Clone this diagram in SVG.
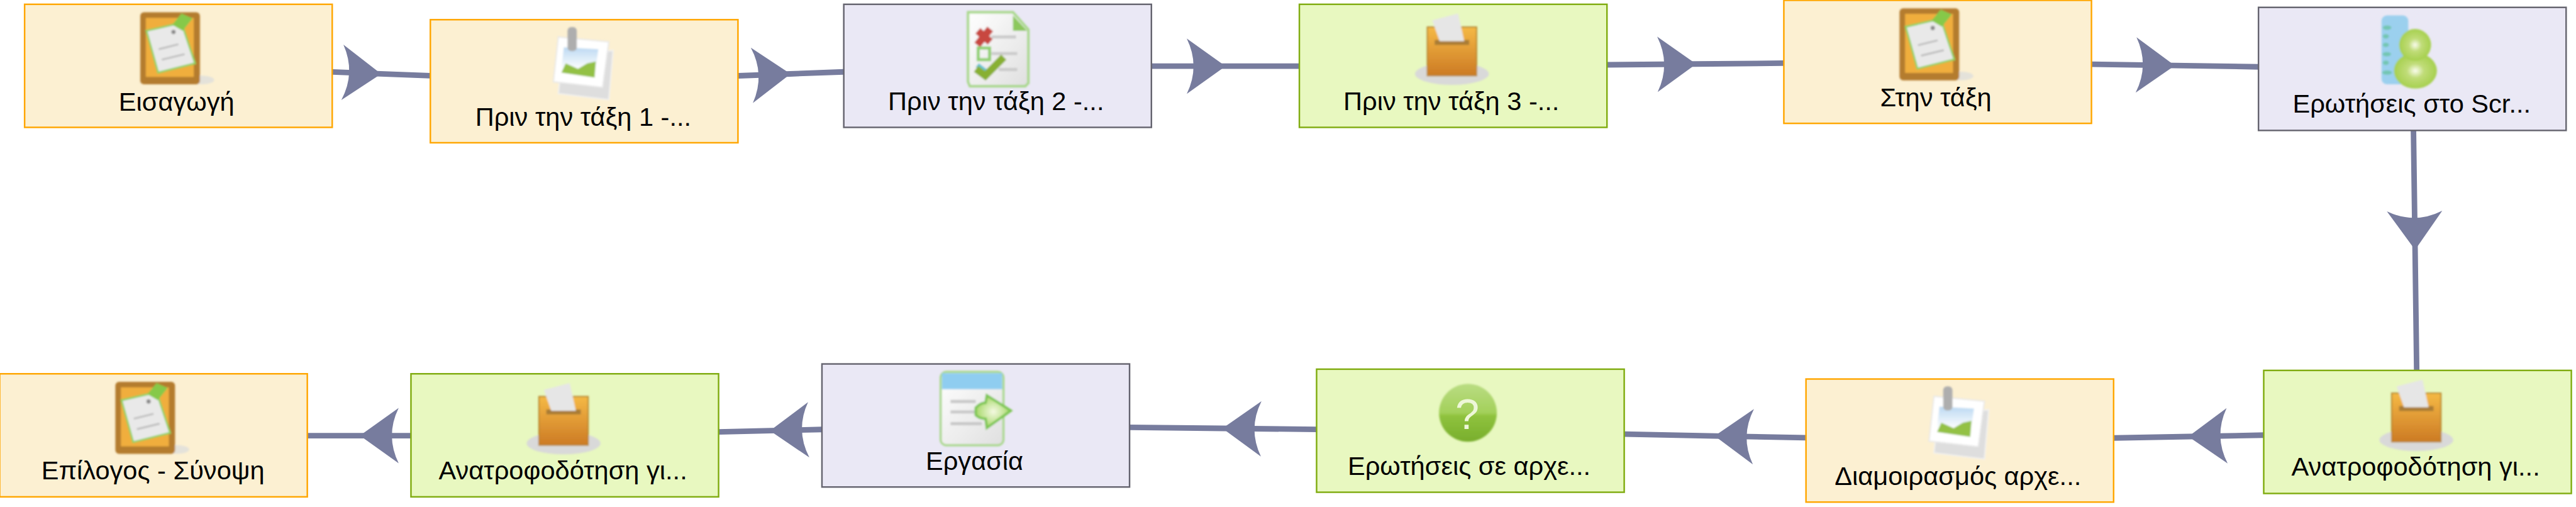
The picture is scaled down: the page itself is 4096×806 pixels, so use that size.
<svg xmlns="http://www.w3.org/2000/svg" xmlns:xlink="http://www.w3.org/1999/xlink" width="4096" height="806" viewBox="0 0 4096 806">
<style>
.box{stroke-width:2.5}
.orange{fill:#fcf0d2;stroke:#ffa600}
.purple{fill:#eae8f5;stroke:#65646f}
.green{fill:#e8f8c0;stroke:#80ac10}
.lbl{font-family:"Liberation Sans",Arial,sans-serif;font-size:42.5px;fill:#000;text-anchor:middle}
.conn{fill:none;stroke:#777c9e;stroke-width:9;marker-mid:url(#head)}
.qm{font-family:"Liberation Sans",Arial,sans-serif;font-size:70px;fill:#eef7d8;text-anchor:middle}
</style>
<defs>
<marker id="head" viewBox="-70 -50 75 100" refX="0" refY="0" markerWidth="75" markerHeight="100" markerUnits="userSpaceOnUse" orient="auto"><path d="M1,0L-62,-45Q-40,0,-62,45Z" fill="#777c9e"/></marker>
<filter id="soft" x="-15%" y="-15%" width="130%" height="130%"><feGaussianBlur stdDeviation="1.6"/></filter>
<linearGradient id="boxg" x1="0" y1="0" x2="0" y2="1"><stop offset="0" stop-color="#f5b945"/><stop offset="1" stop-color="#cc7a24"/></linearGradient>
<linearGradient id="skyg" x1="0" y1="0" x2="0" y2="1"><stop offset="0" stop-color="#bcd9f2"/><stop offset=".75" stop-color="#fff"/></linearGradient>
<linearGradient id="paperg" x1="0" y1="0" x2="1" y2="1"><stop offset="0" stop-color="#fff"/><stop offset="1" stop-color="#dfdfdf"/></linearGradient>
<linearGradient id="qg" x1="0" y1="0" x2="0" y2="1"><stop offset="0" stop-color="#b9dc82"/><stop offset=".5" stop-color="#a3d05a"/><stop offset=".55" stop-color="#8fc23e"/><stop offset="1" stop-color="#78ae2c"/></linearGradient>
<radialGradient id="persong"><stop offset="0" stop-color="#fbfdf0"/><stop offset=".4" stop-color="#c0dc78"/><stop offset="1" stop-color="#a6d04e"/></radialGradient>
<radialGradient id="arrowg"><stop offset="0" stop-color="#f4f9e2"/><stop offset="1" stop-color="#a6d868"/></radialGradient>
<g id="i-board" filter="url(#soft)">
<ellipse cx="98" cy="110" rx="20" ry="7" fill="#e4e2da"/>
<rect x="-2" y="0" width="97" height="117" rx="6" fill="#b47c2e"/>
<rect x="7" y="9" width="78" height="96" fill="#f0ae3c"/>
<polygon points="8,30 65,17 87,83 27,98" fill="#e9e9e9" stroke="#8ed25e" stroke-width="3"/>
<path d="M28,60L60,52M33,77L70,68" stroke="#bdbdbd" stroke-width="3"/>
<polygon points="50,20 65,2 83,10 67,30" fill="#86c94a"/>
<circle cx="52" cy="32" r="3.5" fill="#888"/>
</g>
<g id="i-stack" filter="url(#soft)">
<polygon points="25,45 107,37 100,117 18,107" fill="#dedede" stroke="#f2f2f2" stroke-width="2"/>
<polygon points="18,15 100,23 90,97 10,88" fill="#fff" stroke="#e8e8e8" stroke-width="2"/>
<polygon points="27,32 83,35 77,80 22,75" fill="url(#skyg)"/>
<polygon points="23,73 30,58 50,67 65,58 79,55 77,81" fill="#93c145"/>
<rect x="33" y="-1" width="15" height="39" rx="6" fill="#aeaeae"/>
</g>
<g id="i-check" filter="url(#soft)">
<polygon points="12,0 85,0 110,28 110,115 105,120 15,120 12,113" fill="url(#paperg)" stroke="#a8d88a" stroke-width="4"/>
<polygon points="85,5 108,30 85,30" fill="#8cc85c"/>
<path d="M50,40H90M50,67H92M62,93H92" stroke="#cacaca" stroke-width="5"/>
<path d="M28,30L48,48M48,27L27,53" stroke="#c8463f" stroke-width="12"/>
<rect x="28.500" y="58" width="18.500" height="19" fill="none" stroke="#90d070" stroke-width="5"/>
<path d="M27,86L40,96" stroke="#66c4d4" stroke-width="8"/>
<path d="M25,92L40,103L70,73" fill="none" stroke="#88b030" stroke-width="12"/>
</g>
<g id="i-ballot" filter="url(#soft)">
<ellipse cx="58" cy="100" rx="60" ry="18" fill="#d9d9d9"/>
<rect x="18" y="24" width="80" height="79" fill="url(#boxg)" stroke="#b58632" stroke-width="2"/>
<rect x="30" y="45" width="56" height="8" fill="#a97b35"/>
<polygon points="26,13 68,2 78,47 38,47" fill="#e6e6e6"/>
</g>
<g id="i-person" filter="url(#soft)">
<rect x="10" y="0" width="43.500" height="112" rx="9" fill="#9bd0ee"/>
<g fill="#72c6b0"><ellipse cx="19" cy="20" rx="7" ry="3.500"/><ellipse cx="17" cy="34" rx="5" ry="3.500"/><ellipse cx="17" cy="48" rx="5" ry="3.500"/><ellipse cx="18.500" cy="63" rx="7" ry="3.500"/><ellipse cx="17" cy="77" rx="5" ry="3.500"/><ellipse cx="19" cy="93" rx="8" ry="3.500"/></g>
<ellipse cx="65" cy="90" rx="35" ry="29" fill="url(#persong)"/>
<circle cx="64.500" cy="48" r="26" fill="url(#persong)"/>
</g>
<g id="i-form" filter="url(#soft)">
<rect x="3" y="0" width="102" height="119" rx="9" fill="url(#paperg)" stroke="#a8d88a" stroke-width="3.500"/>
<path d="M5,2H103V28H5Z" fill="#8fcdf0"/>
<path d="M19,48H60M19,65H60M19,84H70" stroke="#c8c8c8" stroke-width="5"/>
<path d="M60,58Q68,50,76,50L78,38L117,63L78,91L76,76Q66,76,60,70Z" fill="url(#arrowg)" stroke="#7cc652" stroke-width="4"/>
</g>
<g id="i-q">
<circle cx="56" cy="58" r="47" fill="url(#qg)" filter="url(#soft)"/>
<text x="55" y="84" class="qm">?</text>
</g>
</defs>
<g transform="scale(0.97825 0.97816)">
<g id="connectors">
<polyline class="conn" points="540,117 618.500,120 699.500,123"/>
<polyline class="conn" points="1200,123.200 1284,120.100 1371.500,116.800"/>
<polyline class="conn" points="1872,107.500 1991,107.500 2112,107.500"/>
<polyline class="conn" points="2612.500,105.300 2756,104 2899.500,102.700"/>
<polyline class="conn" points="3400,104.400 3534,106.500 3671,108.600"/>
<polyline class="conn" points="3922.900,212 3925.500,405 3928.100,602"/>
<polyline class="conn" points="3679.500,707.200 3558,709.500 3436.500,711.800"/>
<polyline class="conn" points="2935.500,711.500 2788,708.500 2640.500,705.500"/>
<polyline class="conn" points="2140,697.900 1988,696.200 1836,694.600"/>
<polyline class="conn" points="1336,698 1252.500,700 1168,702"/>
<polyline class="conn" points="668,708 586,708 500,708"/>
</g>
<g id="node-1" transform="translate(40,7)"><rect class="box orange" width="500" height="200"/><use xlink:href="#i-board" x="190" y="13"/><text class="lbl" x="247" y="173">Εισαγωγή</text></g>
<g id="node-2" transform="translate(699.500,32)"><rect class="box orange" width="500" height="200"/><use xlink:href="#i-stack" x="190" y="13"/><text class="lbl" x="248.500" y="172">Πριν την τάξη 1 -...</text></g>
<g id="node-3" transform="translate(1371.500,7)"><rect class="box purple" width="500" height="200"/><use xlink:href="#i-check" x="190" y="13"/><text class="lbl" x="247.500" y="172">Πριν την τάξη 2 -...</text></g>
<g id="node-4" transform="translate(2112,7)"><rect class="box green" width="500" height="200"/><use xlink:href="#i-ballot" x="190" y="13"/><text class="lbl" x="247" y="172">Πριν την τάξη 3 -...</text></g>
<g id="node-5" transform="translate(2899.500,0.500)"><rect class="box orange" width="500" height="200"/><use xlink:href="#i-board" x="190" y="13"/><text class="lbl" x="247" y="172">Στην τάξη</text></g>
<g id="node-6" transform="translate(3671,12)"><rect class="box purple" width="500" height="200"/><use xlink:href="#i-person" x="190" y="13"/><text class="lbl" x="249" y="171">Ερωτήσεις στο Scr...</text></g>
<g id="node-7" transform="translate(3679.500,602)"><rect class="box green" width="500" height="200"/><use xlink:href="#i-ballot" x="190" y="13"/><text class="lbl" x="247" y="171">Ανατροφοδότηση γι...</text></g>
<g id="node-8" transform="translate(2935.500,616)"><rect class="box orange" width="500" height="200"/><use xlink:href="#i-stack" x="190" y="13"/><text class="lbl" x="247" y="172">Διαμοιρασμός αρχε...</text></g>
<g id="node-9" transform="translate(2140,600)"><rect class="box green" width="500" height="200"/><use xlink:href="#i-q" x="190" y="13"/><text class="lbl" x="248" y="172">Ερωτήσεις σε αρχε...</text></g>
<g id="node-10" transform="translate(1336,591.500)"><rect class="box purple" width="500" height="200"/><use xlink:href="#i-form" x="190" y="13"/><text class="lbl" x="248" y="172">Εργασία</text></g>
<g id="node-11" transform="translate(668,607.500)"><rect class="box green" width="500" height="200"/><use xlink:href="#i-ballot" x="190" y="13"/><text class="lbl" x="247" y="172">Ανατροφοδότηση γι...</text></g>
<g id="node-12" transform="translate(-0.500,607.500)"><rect class="box orange" width="500" height="200"/><use xlink:href="#i-board" x="190" y="13"/><text class="lbl" x="249" y="172">Επίλογος - Σύνοψη</text></g>
</g>
</svg>
